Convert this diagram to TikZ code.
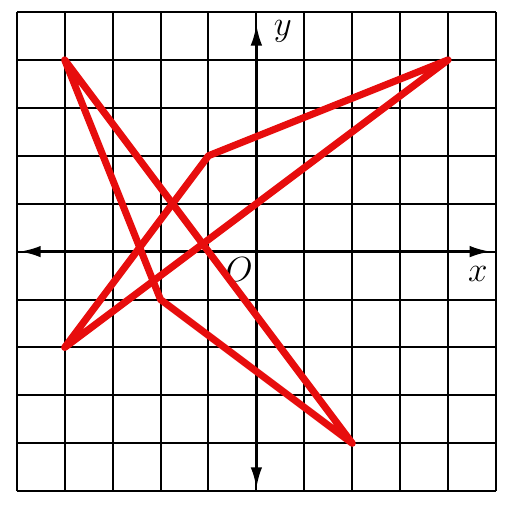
\documentclass[tikz,border=0pt]{standalone}
\usetikzlibrary{arrows.meta}

\tikzset{
  gridline/.style={line width=1.2pt, black},
  axisline/.style={line width=1.9pt, black, {Latex[length=4.5mm,width=2.4mm]}-{Latex[length=4.5mm,width=2.4mm]}},
  redline/.style={line width=4.2pt, red!90!black!95, line join=round},
  axislabel/.style={font=\huge, inner sep=1pt}
}

\begin{document}
\begin{tikzpicture}
    \useasboundingbox (-5.35,-5.27) rectangle (5.25,5.25);
    \draw[gridline] (-5,-5) grid (5,5);
    % axes
    \coordinate (xl) at (-4.95,0);
    \coordinate (xr) at (4.9,0);
    \coordinate (yb) at (0,-4.95);
    \coordinate (yt) at (0,4.75);
    \draw[axisline] (xl) -- (xr);
    \draw[axisline] (yb) -- (yt);
    \node[axislabel] (xlab) at (4.62,-0.46) {$x$};
    \node[axislabel] (ylab) at (0.55,4.6) {$y$};
    \node[axislabel] (orig) at (-0.36,-0.38) {$O$};
    % the two triangles
    \coordinate (A) at (-4,4);
    \coordinate (B) at (2,-4);
    \coordinate (C) at (-2,-1);
    \coordinate (D) at (-4,-2);
    \coordinate (E) at (4,4);
    \coordinate (F) at (-1,2);
    \draw[redline] (A) -- (B) -- (C) -- cycle;
    \draw[redline] (D) -- (E) -- (F) -- cycle;
\end{tikzpicture}
\end{document}
